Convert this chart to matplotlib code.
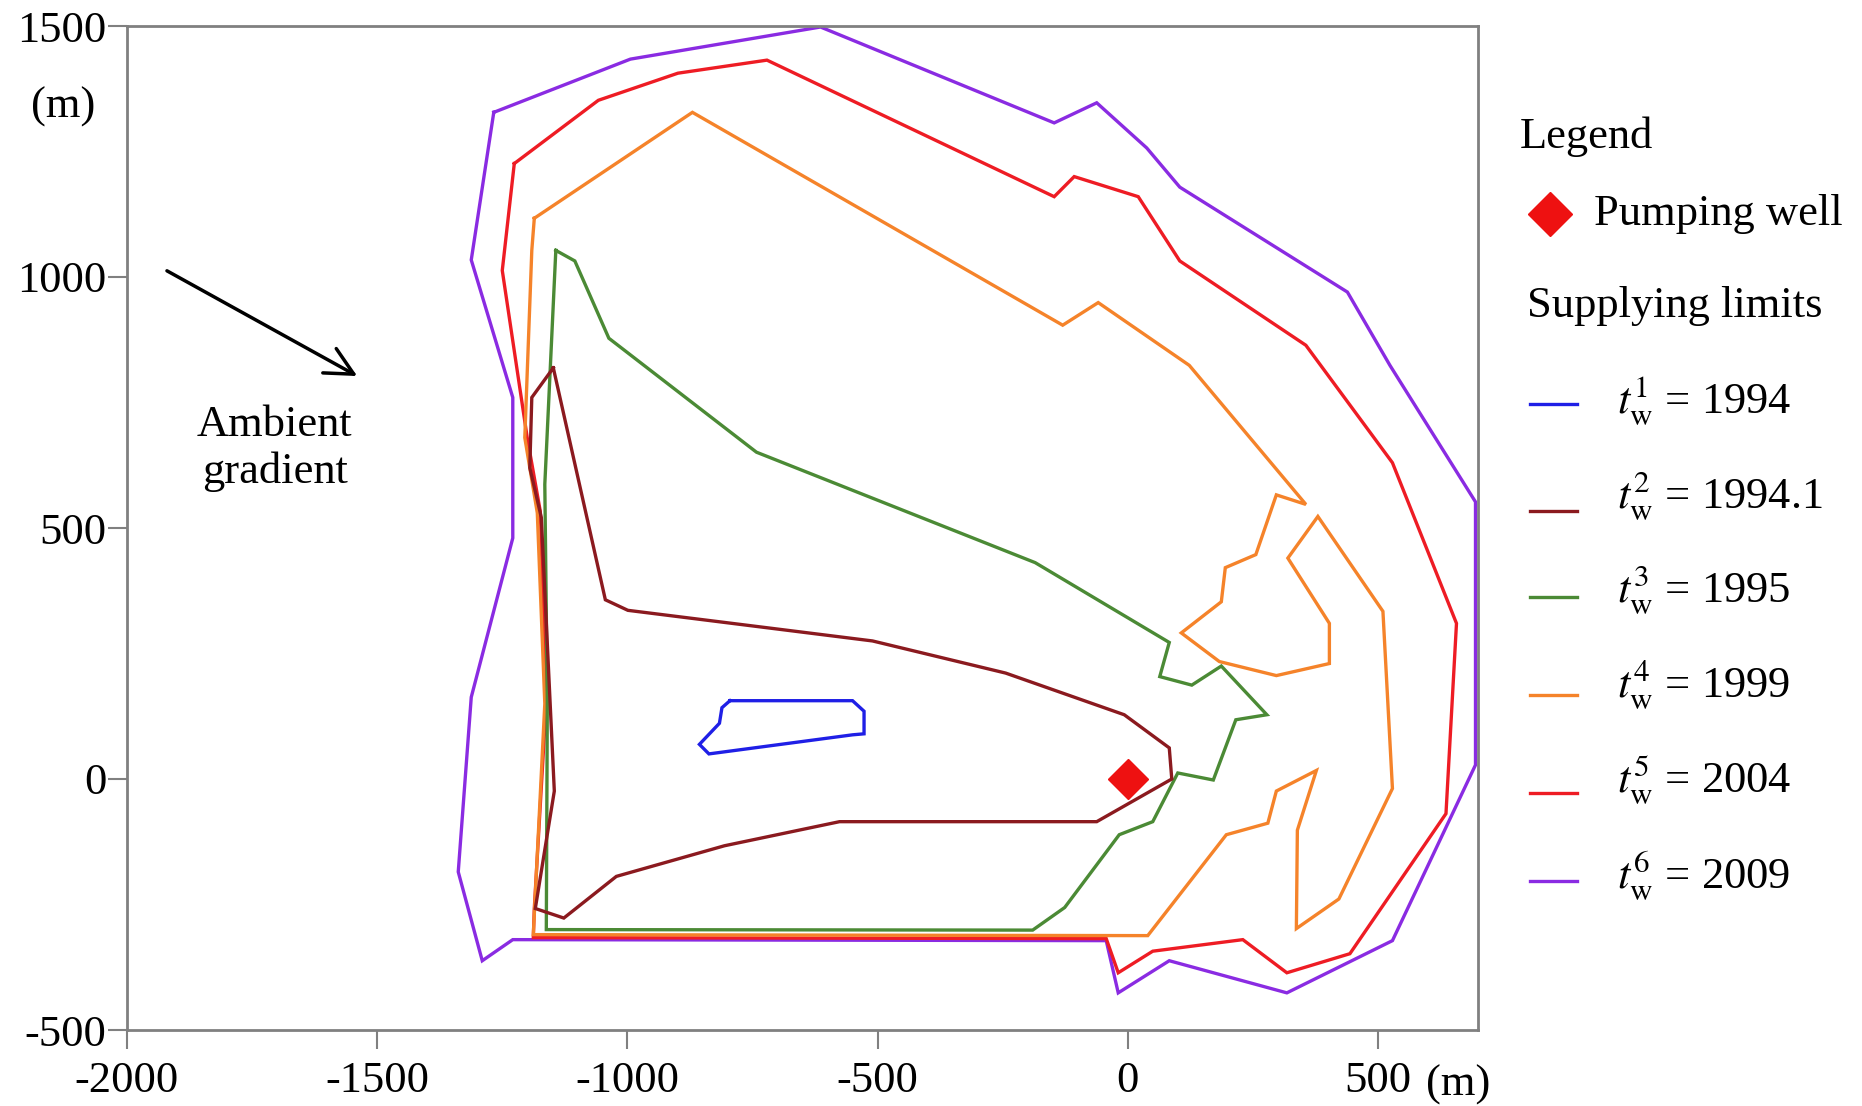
import matplotlib
matplotlib.use("Agg")
import matplotlib.pyplot as plt
from matplotlib.lines import Line2D

plt.rcParams['font.family'] = ['Liberation Serif', 'DejaVu Serif']
plt.rcParams['mathtext.fontset'] = 'stix'
plt.rcParams['axes.unicode_minus'] = False

# supplying limit outlines (m)
lim_1994_x = [-795, -550, -527, -527, -550, -837, -856, -816, -811, -795]
lim_1994_y = [156, 156, 135, 90, 88, 50, 69, 111, 142, 156]

lim_19941_x = [-1148, -1044, -999, -510, -244, -7, 83, 88, -62, -576, -806, -1022,
               -1127, -1184, -1146, -1172, -1195, -1191, -1148]
lim_19941_y = [819, 357, 336, 275, 211, 128, 62, 0, -85, -85, -133, -194,
               -277, -258, -24, 521, 620, 760, 819]

lim_1995_x = [-1143, -1105, -1037, -742, -185, 83, 64, 128, 187, 278, 216, 171, 100,
              50, -17, -126, -190, -1162, -1160, -1165, -1143]
lim_1995_y = [1053, 1032, 878, 651, 431, 272, 204, 187, 225, 128, 118, -2, 12,
              -85, -111, -256, -301, -300, 156, 587, 1053]

lim_1999_x = [-1186, -870, -130, -59, 123, 356, 297, 256, 195, 187, 107, 183, 297, 403,
              403, 320, 380, 510, 529, 422, 337, 339, 377, 297, 280, 197, 40, -1188,
              -1165, -1180, -1205, -1191, -1186]
lim_1999_y = [1117, 1328, 904, 949, 824, 547, 566, 447, 421, 353, 291, 234, 206, 230,
              310, 440, 523, 334, -19, -239, -298, -102, 17, -24, -88, -111, -312, -310,
              150, 530, 680, 1053, 1117]

lim_2004_x = [-1226, -1058, -899, -721, -147, -107, 21, 104, 356, 529, 657, 636, 444,
              318, 230, 50, -19, -43, -1188, -1186, -1162, -1174, -1200, -1250, -1226]
lim_2004_y = [1226, 1352, 1406, 1432, 1160, 1200, 1160, 1032, 864, 630, 310, -69, -348,
              -386, -320, -343, -386, -318, -316, -258, 156, 533, 679, 1013, 1226]

lim_2009_x = [-1267, -994, -614, -147, -62, 38, 104, 439, 524, 695, 695, 529, 318, 83,
              -19, -43, -1229, -1290, -1338, -1312, -1229, -1229, -1312, -1267]
lim_2009_y = [1328, 1434, 1498, 1307, 1347, 1257, 1179, 970, 824, 552, 28, -322, -426,
              -362, -426, -322, -320, -362, -185, 163, 480, 760, 1034, 1328]

well_x = [0]
well_y = [0]

years = ['1994', '1994.1', '1995', '1999', '2004', '2009']
colors = ['#1f1fe6', '#8b1a1f', '#4b8a35', '#f5832a', '#ee1c24', '#8a2be2']

W, H = 1862, 1106
fig = plt.figure(figsize=(W / 100, H / 100), dpi=100)
ax = fig.add_axes([127 / W, 1 - 1030 / H, (1478 - 127) / W, (1030 - 26) / H])


def px(x, y):
    # full-size pixel position -> figure fraction
    return x / W, 1 - y / H


outlines = [
    (lim_2009_x, lim_2009_y, colors[5]),
    (lim_2004_x, lim_2004_y, colors[4]),
    (lim_1999_x, lim_1999_y, colors[3]),
    (lim_1995_x, lim_1995_y, colors[2]),
    (lim_19941_x, lim_19941_y, colors[1]),
    (lim_1994_x, lim_1994_y, colors[0]),
]
for xs, ys, c in outlines:
    ax.plot(xs, ys, color=c, lw=2.4, solid_joinstyle='miter')

ax.plot(well_x, well_y, marker='D', color='#ee1111', ms=20, ls='none', zorder=5)

ax.set_xlim(-2000, 700)
ax.set_ylim(-500, 1500)
ax.set_xticks([-2000, -1500, -1000, -500, 0, 500])
ax.set_yticks([-500, 0, 500, 1000, 1500])
ax.tick_params(labelsize=32, length=14, width=1.5, color='#808080')
ax.tick_params(axis='x', pad=8)
ax.tick_params(axis='y', pad=1)
for s in ax.spines.values():
    s.set_color('#808080')
    s.set_linewidth(2)

ax.text(-0.047, 0.92, '(m)', transform=ax.transAxes, fontsize=32,
        ha='center', va='center')
ax.text(0.985, -0.055, '(m)', transform=ax.transAxes, fontsize=32,
        ha='center', va='center')

ax.annotate('', xy=(-1535, 800), xytext=(-1925, 1015),
            arrowprops=dict(arrowstyle='->', lw=2.5, mutation_scale=50, color='black'))
ax.text(-1705, 658, 'Ambient\ngradient', fontsize=32, ha='center', va='center',
        linespacing=1.2)

# legend panel, drawn by hand
fig.text(*px(1520, 137), 'Legend', fontsize=32, ha='left', va='center')
fig.add_artist(Line2D([px(1550, 214)[0]], [px(1550, 214)[1]], marker='D',
                      color='#ee1111', ms=22, ls='none'))
fig.text(*px(1594, 214), 'Pumping well', fontsize=32, ha='left', va='center')
fig.text(*px(1527, 306), 'Supplying limits', fontsize=32, ha='left', va='center')

line_ys = [404, 511, 597, 695, 793, 881]
text_ys = [401, 496, 590, 685, 780, 875]
for i, (yr, c) in enumerate(zip(years, colors)):
    x0, y0 = px(1530, line_ys[i])
    x1, _ = px(1577, line_ys[i])
    fig.add_artist(Line2D([x0, x1], [y0, y0], color=c, lw=2.4))
    fig.text(*px(1617, text_ys[i]), r'$t_{\mathrm{w}}^{%d}$ = %s' % (i + 1, yr),
             fontsize=32, ha='left', va='center')

fig.savefig('out.png', dpi=100)
